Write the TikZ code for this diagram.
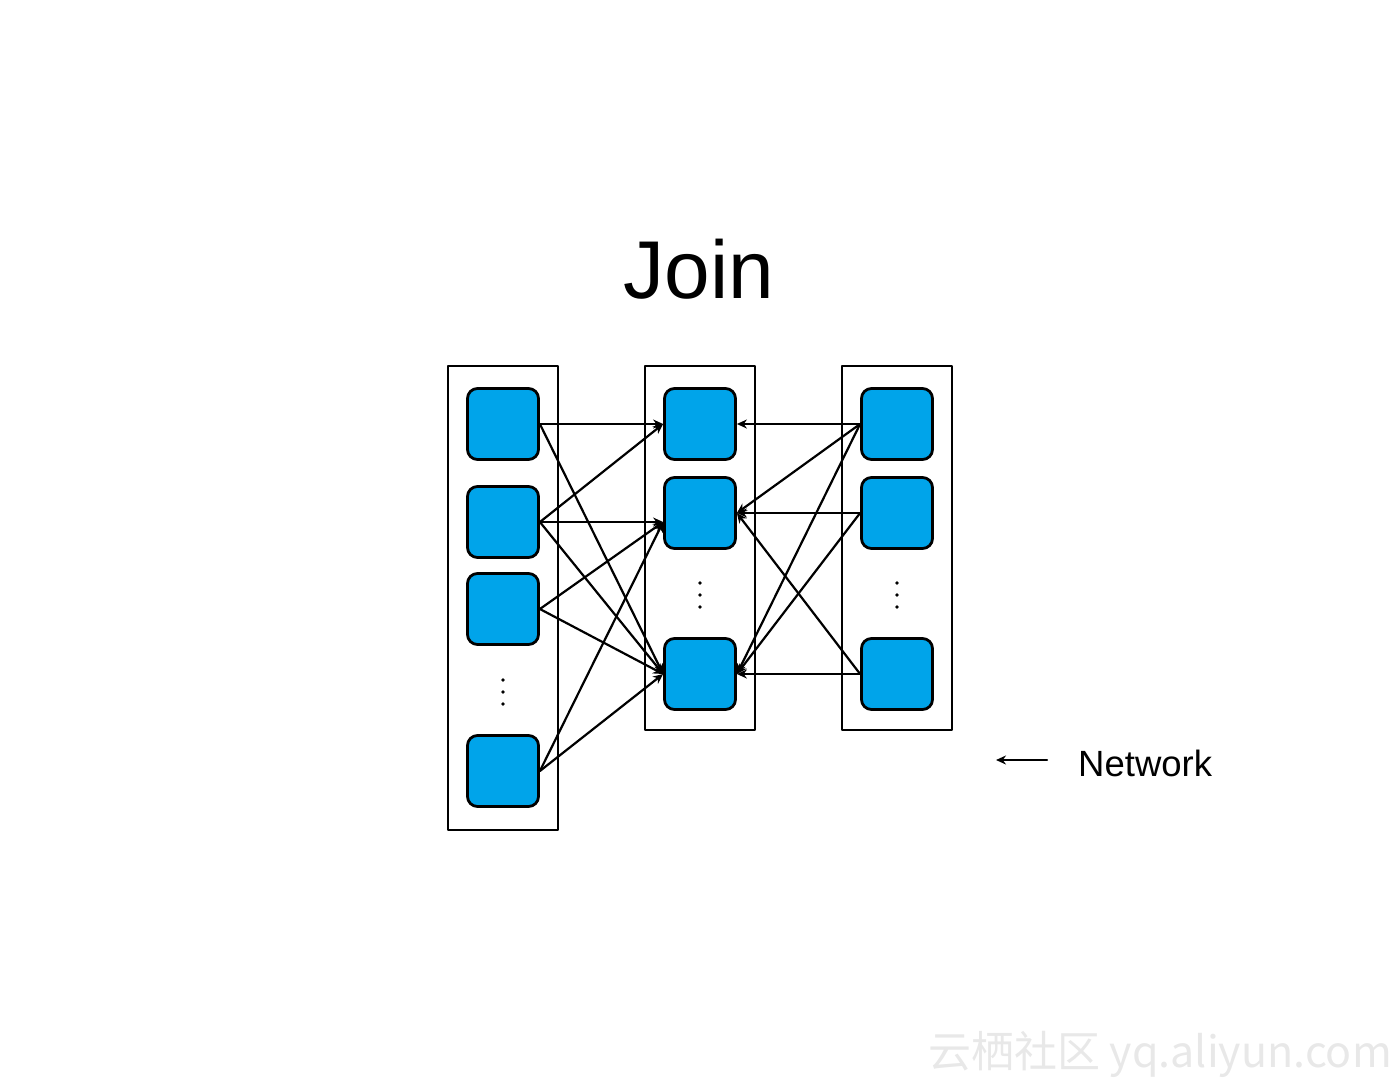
\documentclass[tikz,border=0pt]{standalone}
\usepackage{fontspec}
\setmainfont{Liberation Sans}
\newfontfamily\cjkfont{Noto Sans CJK SC}
\usetikzlibrary{arrows.meta}
\definecolor{cellblue}{RGB}{0,164,234}

\begin{document}
\begin{tikzpicture}[line cap=round, line join=round, x=1pt, y=-1pt, >={Stealth[length=10pt,width=9pt]}]
	\tikzset{cell/.style={draw, line width=2.8pt, fill=cellblue, rounded corners=10pt, minimum size=71pt, inner sep=0pt},
		frame/.style={draw, line width=2.4pt, minimum width=110pt, inner sep=0pt},
		link/.style={->, line width=2.2pt}}
	\useasboundingbox (0,0) rectangle (1400,1082);
	% title
	\node[anchor=base, font=\fontsize{82}{90}\selectfont] (title) at (699,298) {Join};
	% columns
	\node[frame, minimum height=464pt] (lcol) at (503,598) {};
	\node[frame, minimum height=364pt] (mcol) at (700,548) {};
	\node[frame, minimum height=364pt] (rcol) at (897,548) {};
	% cells
	\node[cell] (l1) at (503,424) {};
	\node[cell] (l2) at (503,522) {};
	\node[cell] (l3) at (503,609) {};
	\node[cell] (l4) at (503,771) {};
	\node[cell] (m1) at (700,424) {};
	\node[cell] (m2) at (700,513) {};
	\node[cell] (m3) at (700,674) {};
	\node[cell] (r1) at (897,424) {};
	\node[cell] (r2) at (897,513) {};
	\node[cell] (r3) at (897,674) {};
	% dots
	\foreach \dy in {-12,0,12} {
		\fill (503,692+\dy) circle (1.8pt);
		\fill (700,595+\dy) circle (1.8pt);
		\fill (897,595+\dy) circle (1.8pt);
	}
	\coordinate (m2in) at (m2.west |- l2.east);
	% left to middle
	\draw[link] (l1.east) -- (m1.west);
	\draw[link] (l1.east) -- (m3.west);
	\draw[link] (l2.east) -- (m1.west);
	\draw[link] (l2.east) -- (m2in);
	\draw[link] (l2.east) -- (m3.west);
	\draw[link] (l3.east) -- (m2in);
	\draw[link] (l3.east) -- (m3.west);
	\draw[link] (l4.east) -- (m2in);
	\draw[link] (l4.east) -- (m3.west);
	% right to middle
	\draw[link] (r1.west) -- (m1.east);
	\draw[link] (r1.west) -- (m2.east);
	\draw[link] (r1.west) -- (m3.east);
	\draw[link] (r2.west) -- (m2.east);
	\draw[link] (r2.west) -- (m3.east);
	\draw[link] (r3.west) -- (m3.east);
	\draw[link] (r3.west) -- (m2.east);
	% legend
	\coordinate (neta) at (1047,760);
	\coordinate (netb) at (996,760);
	\draw[link] (neta) -- (netb);
	\node[anchor=base west, font=\fontsize{36.5}{40}\selectfont, inner sep=0pt] (net) at (1078,776) {Network};
	% watermark
	\node[anchor=east, text=black!9, font=\fontsize{43}{46}\selectfont, inner sep=0pt] (mark) at (1392,1054) {\cjkfont 云栖社区 yq.aliyun.com};
\end{tikzpicture}
\end{document}
